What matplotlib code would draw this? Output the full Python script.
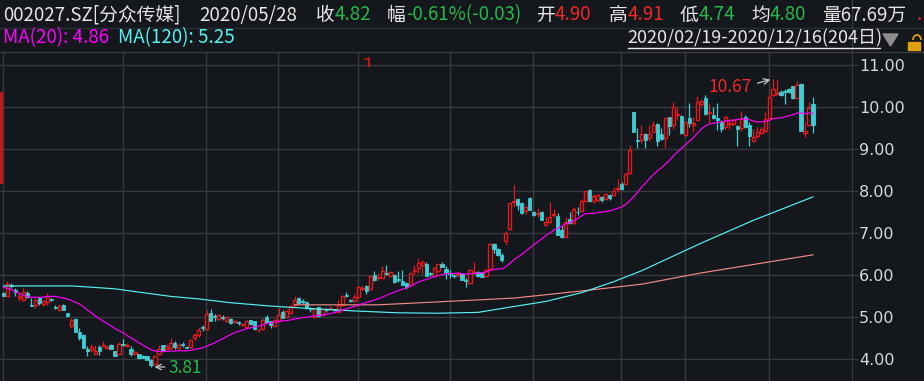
import numpy as np
import pandas as pd
import matplotlib
matplotlib.use('Agg')
import matplotlib.pyplot as plt
from matplotlib.patches import Rectangle, Polygon, Arc
from matplotlib.lines import Line2D

# --- daily candles, 002027.SZ, 2020/02/19 - 2020/12/16 (204 trading days) ---
opens = [
    5.57, 5.51, 5.76, 5.65, 5.45, 5.40, 5.57, 5.28, 5.29, 5.46,
    5.30, 5.35, 5.43, 5.23, 5.16, 5.28, 5.10, 4.78, 4.96, 4.65,
    4.56, 4.24, 4.21, 4.13, 4.29, 4.31, 4.26, 4.33, 4.19, 4.13,
    4.36, 4.32, 4.24, 4.11, 4.11, 4.08, 4.06, 3.98, 3.88, 4.12,
    4.33, 4.24, 4.26, 4.39, 4.26, 4.35, 4.29, 4.28, 4.50, 4.56,
    4.77, 4.71, 5.10, 5.02, 4.96, 5.00, 4.90, 4.96, 4.89, 4.88,
    4.81, 4.77, 4.93, 4.90, 4.68, 4.72, 5.00, 4.90, 4.79, 4.90,
    5.12, 5.01, 5.09, 5.28, 5.45, 5.37, 5.36, 5.21, 5.01, 5.23,
    5.05, 5.18, 5.19, 5.18, 5.13, 5.29, 5.53, 5.40, 5.37, 5.48,
    5.67, 5.74, 5.66, 6.00, 5.93, 5.94, 6.05, 5.98, 6.00, 5.91,
    5.86, 5.80, 5.76, 6.09, 6.16, 6.24, 6.26, 6.05, 5.98, 6.10,
    6.26, 6.15, 6.05, 5.99, 6.00, 6.02, 5.87, 5.80, 6.06, 6.07,
    6.04, 5.98, 6.14, 6.74, 6.63, 6.48, 6.82, 7.10, 7.74, 7.80,
    7.71, 7.53, 7.83, 7.50, 7.46, 7.50, 7.20, 7.26, 7.44, 7.40,
    7.06, 6.91, 7.33, 7.23, 7.51, 7.52, 7.75, 8.02, 7.75, 7.78,
    7.85, 7.80, 7.90, 7.90, 8.05, 8.17, 8.17, 8.42, 9.88, 9.22,
    9.21, 9.36, 9.25, 9.41, 9.60, 9.36, 9.25, 9.75, 9.57, 9.82,
    9.79, 9.33, 9.75, 9.57, 9.69, 10.07, 10.21, 9.86, 9.81, 9.74,
    9.64, 9.52, 9.60, 9.60, 9.55, 9.50, 9.77, 9.58, 9.20, 9.31,
    9.38, 9.42, 9.74, 10.29, 10.30, 10.36, 10.38, 10.42, 10.49, 10.21,
    10.54, 9.37, 9.56, 10.06,
]
highs = [
    5.60, 5.86, 5.80, 5.68, 5.60, 5.68, 5.62, 5.45, 5.46, 5.47,
    5.40, 5.57, 5.46, 5.29, 5.31, 5.30, 5.10, 4.98, 4.98, 4.73,
    4.60, 4.32, 4.35, 4.33, 4.33, 4.42, 4.33, 4.35, 4.19, 4.41,
    4.48, 4.38, 4.30, 4.20, 4.11, 4.10, 4.06, 3.99, 4.07, 4.34,
    4.34, 4.35, 4.50, 4.42, 4.37, 4.40, 4.30, 4.46, 4.63, 4.77,
    4.80, 5.17, 5.19, 5.07, 5.07, 5.05, 5.03, 4.97, 4.93, 4.90,
    4.85, 4.93, 4.94, 4.90, 4.72, 4.98, 5.04, 4.91, 4.96, 5.21,
    5.17, 5.17, 5.29, 5.50, 5.47, 5.42, 5.37, 5.23, 5.19, 5.24,
    5.20, 5.21, 5.27, 5.19, 5.40, 5.52, 5.60, 5.43, 5.55, 5.74,
    5.76, 5.76, 6.00, 6.09, 6.05, 6.21, 6.24, 6.08, 6.02, 6.09,
    6.12, 5.83, 6.05, 6.24, 6.40, 6.36, 6.30, 6.08, 6.19, 6.27,
    6.31, 6.21, 6.12, 6.02, 6.10, 6.03, 5.94, 6.14, 6.31, 6.10,
    6.06, 6.14, 6.76, 6.76, 6.65, 6.52, 7.04, 7.73, 8.14, 7.83,
    7.73, 7.65, 7.86, 7.52, 7.60, 7.52, 7.39, 7.75, 7.56, 7.47,
    7.17, 7.37, 7.50, 7.61, 7.61, 7.80, 8.03, 8.04, 7.92, 7.92,
    7.87, 7.95, 7.92, 8.10, 8.28, 8.22, 8.46, 9.10, 9.89, 9.49,
    9.57, 9.38, 9.57, 9.67, 9.62, 9.49, 9.75, 9.77, 10.13, 9.97,
    9.81, 9.66, 10.09, 9.77, 10.26, 10.20, 10.29, 10.10, 10.01, 10.09,
    9.69, 9.78, 9.72, 9.72, 9.58, 9.90, 9.80, 9.64, 9.48, 9.52,
    9.52, 9.87, 10.28, 10.67, 10.64, 10.40, 10.42, 10.45, 10.51, 10.61,
    10.56, 9.64, 10.12, 10.24,
]
lows = [
    5.50, 5.50, 5.68, 5.51, 5.38, 5.38, 5.46, 5.26, 5.22, 5.29,
    5.26, 5.29, 5.39, 5.20, 5.14, 5.17, 5.01, 4.75, 4.64, 4.45,
    4.27, 4.08, 4.17, 4.12, 4.10, 4.29, 4.25, 4.25, 4.06, 4.11,
    4.31, 4.28, 4.08, 4.10, 4.00, 4.02, 3.97, 3.81, 3.87, 4.10,
    4.20, 4.23, 4.25, 4.24, 4.25, 4.28, 4.26, 4.27, 4.45, 4.53,
    4.66, 4.69, 4.90, 4.90, 4.93, 4.92, 4.89, 4.84, 4.86, 4.81,
    4.80, 4.76, 4.82, 4.69, 4.64, 4.69, 4.87, 4.74, 4.78, 4.89,
    4.97, 5.00, 5.07, 5.27, 5.32, 5.32, 5.20, 5.12, 5.00, 5.01,
    5.04, 5.13, 5.17, 5.14, 5.12, 5.28, 5.47, 5.36, 5.36, 5.47,
    5.64, 5.55, 5.65, 5.86, 5.88, 5.92, 6.00, 5.97, 5.81, 5.83,
    5.76, 5.67, 5.75, 6.03, 6.04, 6.02, 5.97, 5.97, 5.97, 6.08,
    6.19, 5.90, 5.92, 5.92, 5.96, 5.87, 5.71, 5.78, 6.03, 5.95,
    5.95, 5.97, 6.12, 6.52, 6.46, 6.32, 6.72, 7.08, 7.63, 7.55,
    7.45, 7.45, 7.54, 7.40, 7.39, 7.30, 7.19, 7.25, 7.38, 6.95,
    6.88, 6.90, 7.22, 7.22, 7.44, 7.50, 7.73, 7.73, 7.72, 7.75,
    7.75, 7.78, 7.78, 7.87, 7.98, 8.03, 8.16, 8.40, 9.40, 9.02,
    9.15, 9.02, 9.18, 9.40, 9.06, 9.21, 9.02, 9.33, 9.47, 9.69,
    9.36, 9.32, 9.53, 9.41, 9.68, 10.02, 9.82, 9.61, 9.72, 9.45,
    9.40, 9.45, 9.48, 9.55, 9.07, 9.44, 9.50, 9.07, 9.18, 9.26,
    9.36, 9.40, 9.72, 10.27, 10.28, 10.26, 10.08, 10.34, 10.20, 10.20,
    9.43, 9.28, 9.55, 9.37,
]
closes = [
    5.51, 5.78, 5.73, 5.59, 5.50, 5.59, 5.48, 5.27, 5.40, 5.33,
    5.37, 5.51, 5.41, 5.21, 5.27, 5.17, 5.03, 4.94, 4.65, 4.49,
    4.27, 4.20, 4.29, 4.19, 4.19, 4.34, 4.28, 4.25, 4.06, 4.36,
    4.34, 4.34, 4.11, 4.17, 4.03, 4.03, 3.98, 3.86, 4.06, 4.23,
    4.21, 4.29, 4.39, 4.28, 4.34, 4.33, 4.27, 4.45, 4.56, 4.69,
    4.75, 5.07, 4.91, 4.99, 5.04, 4.97, 5.01, 4.85, 4.91, 4.86,
    4.83, 4.91, 4.83, 4.72, 4.70, 4.93, 4.88, 4.82, 4.94, 5.04,
    4.98, 5.14, 5.26, 5.40, 5.33, 5.35, 5.21, 5.19, 5.18, 5.02,
    5.18, 5.16, 5.22, 5.16, 5.29, 5.50, 5.51, 5.38, 5.48, 5.72,
    5.69, 5.63, 5.98, 5.88, 5.95, 6.09, 6.03, 6.06, 5.83, 5.89,
    5.77, 5.72, 6.04, 6.11, 6.28, 6.32, 5.98, 6.03, 6.17, 6.25,
    6.20, 6.04, 6.03, 5.97, 6.02, 5.88, 5.85, 6.12, 6.08, 5.98,
    5.96, 6.12, 6.74, 6.61, 6.48, 6.36, 6.99, 7.71, 7.76, 7.67,
    7.48, 7.62, 7.55, 7.42, 7.48, 7.31, 7.25, 7.37, 7.46, 6.96,
    6.91, 7.25, 7.23, 7.56, 7.49, 7.75, 8.01, 7.75, 7.88, 7.90,
    7.78, 7.93, 7.83, 7.99, 8.07, 8.04, 8.40, 8.98, 9.41, 9.20,
    9.36, 9.21, 9.36, 9.57, 9.18, 9.23, 9.73, 9.55, 9.99, 9.84,
    9.37, 9.64, 9.63, 9.61, 10.12, 10.15, 9.83, 9.88, 9.73, 9.68,
    9.48, 9.75, 9.63, 9.68, 9.47, 9.71, 9.52, 9.31, 9.28, 9.41,
    9.47, 9.71, 10.23, 10.42, 10.34, 10.28, 10.36, 10.36, 10.21, 10.52,
    9.44, 9.42, 9.98, 9.58,
]

# MA20 before day 20 of the window (needs older closes)
ma20_head = [5.71, 5.68, 5.65, 5.60, 5.56, 5.52, 5.49, 5.47, 5.47, 5.47,
             5.47, 5.49, 5.49, 5.49, 5.47, 5.45, 5.43, 5.40, 5.35]

# MA120 and the long (salmon) average at some days
ma120_idx = [0, 17, 22, 28, 35, 42, 49, 57, 67, 79, 89, 99, 109, 119,
             128, 136, 145, 153, 160, 175, 188, 203]
ma120_val = [5.74, 5.74, 5.71, 5.67, 5.58, 5.49, 5.43, 5.34, 5.26, 5.19,
             5.14, 5.10, 5.09, 5.11, 5.25, 5.37, 5.58, 5.84, 6.10, 6.76,
             7.30, 7.86]
malong_idx = [73, 94, 111, 128, 145, 160, 175, 203]
malong_val = [5.29, 5.29, 5.37, 5.45, 5.62, 5.78, 6.05, 6.48]

month_starts = [0, 30, 51, 69, 89, 112, 133, 155, 171, 192]
price_ticks = [4, 5, 6, 7, 8, 9, 10, 11]

# header numbers (crosshair day 2020/05/28)
hdr_code = '002027.SZ[分众传媒]'
hdr_date = '2020/05/28'
hdr_close, hdr_chg, hdr_open, hdr_high, hdr_low, hdr_avg = 4.82, -0.03, 4.90, 4.91, 4.74, 4.80
hdr_pct = -0.61
hdr_vol = '67.69万'
hdr_ma20, hdr_ma120 = 4.86, 5.25
hdr_range = '2020/02/19-2020/12/16(204日)'

W, H = 924, 381
BG = '#14171c'
GRID = '#36393f'
RED = '#e3191c'
CYAN = '#3dcdd2'
WHITE = '#e6e6e6'
GREEN = '#25b84a'
TXTRED = '#f0282a'
MAGENTA = '#ff00ff'
MACYAN = '#55f2f2'
SALMON = '#f08a86'

plt.rcParams['font.family'] = ['Noto Sans CJK SC', 'DejaVu Sans']

df = pd.DataFrame({'open': opens, 'high': highs, 'low': lows, 'close': closes})
ma20 = df['close'].rolling(20).mean().values
ma20[:19] = ma20_head

fig = plt.figure(figsize=(W / 100, H / 100), dpi=100, facecolor=BG)
top = 52
ax = fig.add_axes([0, 0, 852 / W, (H - top) / H], facecolor=BG)

# px -> price scale: 42 px per yuan, 11.00 at y=65
ax.set_ylim(11 - (H - 65) / 42, 11 + (65 - top) / 42)
ax.set_xlim(-3.4 / 3.988, (852 - 3.4) / 3.988)

for p in price_ticks:
    ax.axhline(p, color=GRID, lw=1, zorder=0)
for m in month_starts:
    ax.axvline(m - 0.1, color=GRID, lw=1, zorder=0)

bw = 0.8
for i, r in df.iterrows():
    up = r['close'] > r['open']
    col = RED if up else CYAN
    ax.vlines(i, r['low'], r['high'], color=col, lw=0.9, zorder=2)
    lo = min(r['open'], r['close'])
    h = abs(r['close'] - r['open'])
    if up:
        ax.add_patch(Rectangle((i - bw / 2, lo), bw, h, facecolor=BG, edgecolor=col,
                               lw=1, zorder=3))
    else:
        ax.add_patch(Rectangle((i - bw / 2, lo), bw, h, facecolor=col, edgecolor=col,
                               lw=0.6, zorder=3))

ax.plot(malong_idx, malong_val, color=SALMON, lw=0.85, zorder=4)
ax.plot(ma120_idx, ma120_val, color=MACYAN, lw=0.85, zorder=4)
ax.plot(df.index, ma20, color=MAGENTA, lw=0.85, zorder=5)

# min / max marks
imin = int(np.argmin(lows))
imax = int(np.argmax(highs))
ax.annotate('', xy=(imin + 0.2, lows[imin]), xytext=(imin + 4.2, lows[imin]),
            arrowprops=dict(arrowstyle='->', color='#c8c8c8', lw=0.9), zorder=6)
ax.text(imin + 4.4, lows[imin] - 0.03, f'{lows[imin]:.2f}', color=GREEN, fontsize=12.5,
        ha='left', va='center', zorder=6)
ax.annotate('', xy=(imax, highs[imax]), xytext=(imax - 4.6, highs[imax] - 0.12),
            arrowprops=dict(arrowstyle='->', color='#c8c8c8', lw=0.9), zorder=6)
ax.text(imax - 5.2, highs[imax] - 0.2, f'{highs[imax]:.2f}', color=TXTRED, fontsize=12.5,
        ha='right', va='center', zorder=6)

ax.yaxis.tick_right()
ax.set_yticks(price_ticks)
ax.set_yticklabels([f'{p:.2f}' for p in price_ticks])
ax.tick_params(axis='y', length=4, width=1, color=GRID, pad=1, labelsize=11.5,
               labelcolor='#d4d9de')
for lbl in ax.get_yticklabels():
    lbl.set_family('DejaVu Sans')
ax.set_xticks([])
for s in ['left', 'bottom']:
    ax.spines[s].set_visible(False)
ax.spines['right'].set_color(GRID)
ax.spines['top'].set_color(GRID)


def fx(x):
    return x / W


def fy(y):
    return 1 - y / H


# header separators
fig.add_artist(Line2D([0, 1], [fy(28), fy(28)], color='#2b2e34', lw=1))
fig.add_artist(Line2D([0, 1], [fy(top), fy(top)], color=GRID, lw=1))
fig.add_artist(Line2D([fx(852), fx(852)], [fy(top), fy(0)], color=GRID, lw=1))

fs = 13.5
row1 = [
    (3, hdr_code, WHITE), (199, hdr_date, WHITE),
    (316, '收', WHITE), (335, f'{hdr_close:.2f}', GREEN),
    (387, '幅', WHITE), (406, f'{hdr_pct:.2f}%({hdr_chg:.2f})', GREEN),
    (537, '开', WHITE), (555, f'{hdr_open:.2f}', TXTRED),
    (609, '高', WHITE), (628, f'{hdr_high:.2f}', TXTRED),
    (680, '低', WHITE), (699, f'{hdr_low:.2f}', GREEN),
    (751, '均', WHITE), (770, f'{hdr_avg:.2f}', GREEN),
    (822, '量' + hdr_vol, WHITE), (917, '.', TXTRED),
]
for x, s, c in row1:
    fig.text(fx(x), fy(15), s, color=c, fontsize=fs, ha='left', va='center')

fig.text(fx(3), fy(38), f'MA(20): {hdr_ma20:.2f}', color=MAGENTA, fontsize=fs,
         ha='left', va='center')
fig.text(fx(118), fy(38), f'MA(120): {hdr_ma120:.2f}', color=MACYAN, fontsize=fs,
         ha='left', va='center')
fig.text(fx(627), fy(38), hdr_range, color=WHITE, fontsize=13, ha='left', va='center')
fig.add_artist(Line2D([fx(628), fx(880)], [fy(47.5), fy(47.5)], color=WHITE, lw=1))
# dropdown triangle and lock
fig.add_artist(Polygon([[fx(883), fy(34)], [fx(898), fy(34)], [fx(890.5), fy(46)]],
                       closed=True, color='#8c8c8c'))
fig.add_artist(Rectangle((fx(908), fy(50)), 12 / W, 8 / H, color='#e0a012'))
fig.add_artist(Arc((fx(917), fy(40)), 8 / W, 10 / H, theta1=0, theta2=180,
                   color='#e0a012', lw=1.3))

# leftover red marks at the left edge and top of the plot
fig.add_artist(Rectangle((0, fy(183)), 2.3 / W, 91 / H, color='#b81c1c'))
fig.add_artist(Line2D([fx(369), fx(369)], [fy(58), fy(66)], color='#c01818', lw=1.5))
fig.add_artist(Line2D([fx(365), fx(369)], [fy(58.5), fy(58.5)], color='#c01818', lw=1.2))

fig.savefig('out.png', dpi=100, facecolor=BG)
